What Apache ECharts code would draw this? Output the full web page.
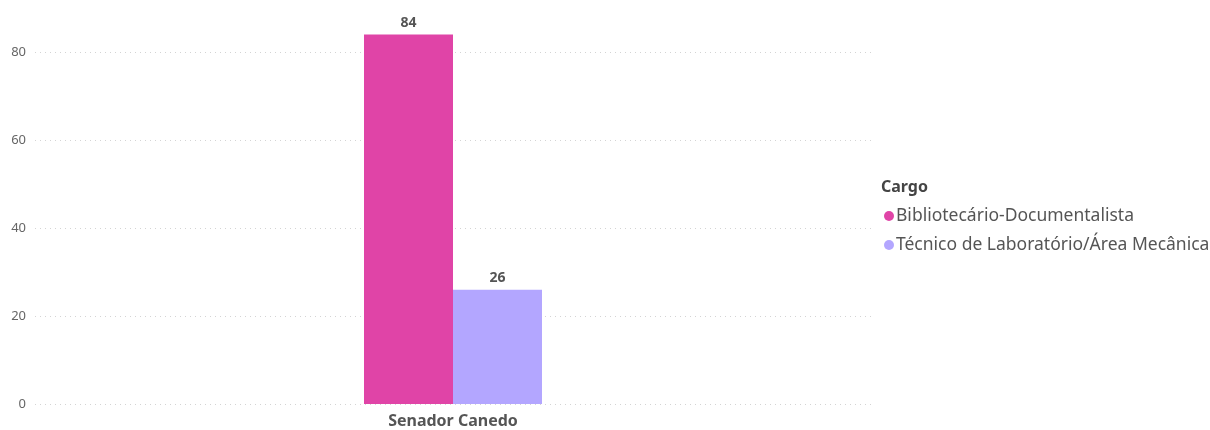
<!DOCTYPE html>
<html><head><meta charset="utf-8">
<script src="https://cdn.jsdelivr.net/npm/echarts@6/dist/echarts.min.js"></script>
<style>html,body{margin:0;padding:0;background:#fff}#c{width:1210px;height:430px}</style>
</head><body><div id="c"></div>
<script>
const categories = ["Senador Canedo"];
const seriesNames = ["Bibliotecário-Documentalista", "Técnico de Laboratório/Área Mecânica"];
const seriesValues = [[84], [26]];
const colors = ["#E044A7", "#B3A6FF"];
const legendTitle = "Cargo";
const font = "'Noto Sans', 'Open Sans', sans-serif";

const chart = echarts.init(document.getElementById('c'));
chart.setOption({
  animation: false,
  title: { text: legendTitle, left: 876, top: 174, textStyle: { fontFamily: font, fontSize: 16, fontWeight: 'bold', color: '#444' } },
  legend: {
    orient: 'vertical', left: 879, top: 202, icon: 'circle', itemWidth: 10, itemHeight: 10, itemGap: 11,
    textStyle: { fontFamily: font, fontSize: 17.5, color: '#555', padding: [0,0,0,-3] },
    data: seriesNames
  },
  grid: { left: 35, right: 339, top: 17, bottom: 26, containLabel: false },
  xAxis: {
    type: 'category', data: categories,
    axisLine: { show: false }, axisTick: { show: false },
    axisLabel: { fontFamily: font, fontSize: 16, fontWeight: 'bold', color: '#555', margin: 9 }
  },
  yAxis: {
    type: 'value', min: 0, max: 88, interval: 20,
    axisLine: { show: false }, axisTick: { show: false },
    axisLabel: { fontFamily: font, fontSize: 13, color: '#666', margin: 9, showMaxLabel: false },
    splitLine: { showMaxLine: false, lineStyle: { type: [1, 4], color: '#d4d4d4', width: 1 } }
  },
  series: seriesNames.map((n, i) => ({
    name: n, type: 'bar', data: seriesValues[i], barWidth: 89, barGap: '0%',
    itemStyle: { color: colors[i] },
    label: { show: true, position: 'top', distance: 5, fontFamily: font, fontSize: 14, fontWeight: 'bold', color: '#555' }
  }))
});
</script></body></html>
